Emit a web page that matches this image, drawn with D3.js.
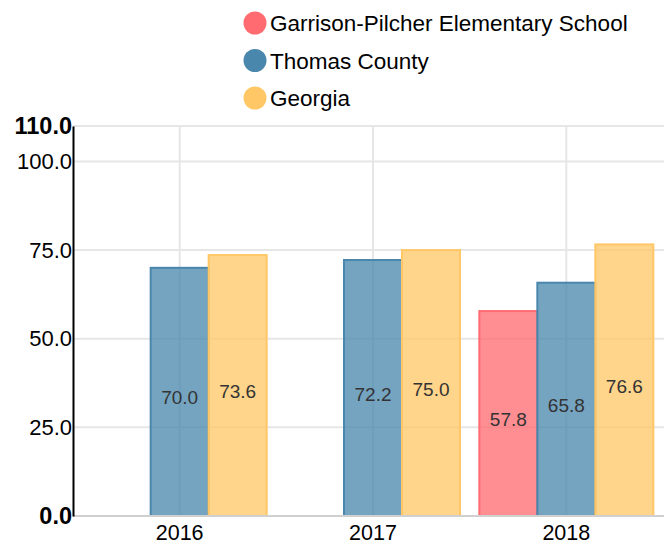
<!DOCTYPE html>
<html>
<head>
<meta charset="utf-8">
<script src="https://cdn.jsdelivr.net/npm/d3@7"></script>
<style>
  body { margin: 0; background: #fff; }
  text { font-family: "Liberation Sans", Arial, sans-serif; }
</style>
</head>
<body>
<div id="chart"></div>
<script>
const years = ["2016", "2017", "2018"];
const seriesNames = ["Garrison-Pilcher Elementary School", "Thomas County", "Georgia"];
const school = [null, null, 57.8];
const county = [70.0, 72.2, 65.8];
const georgia = [73.6, 75.0, 76.6];
const yTicks = [0, 25, 50, 75, 100, 110];
const colors = ["#ff6b70", "#4a87ad", "#ffc766"];

const W = 664, H = 547;
const margin = {top: 126, right: 1, bottom: 31, left: 73};

const svg = d3.select("#chart").append("svg")
  .attr("width", W)
  .attr("height", H);

const x = d3.scaleBand().domain(years).range([83, 663]);
const x1 = d3.scaleBand().domain(seriesNames).range([0, x.bandwidth() * 0.9]);
const y = d3.scaleLinear().domain([0, 110]).range([H - margin.bottom, margin.top]);

// grid
svg.append("g").selectAll("line.h")
  .data(yTicks.filter(d => d > 0))
  .enter().append("line")
  .attr("x1", margin.left).attr("x2", W)
  .attr("y1", d => y(d)).attr("y2", d => y(d))
  .attr("stroke", "#e6e6e6").attr("stroke-width", 2);

svg.append("g").selectAll("line.v")
  .data(years)
  .enter().append("line")
  .attr("x1", d => x(d) + x.bandwidth() / 2).attr("x2", d => x(d) + x.bandwidth() / 2)
  .attr("y1", y(110)).attr("y2", y(0))
  .attr("stroke", "#e6e6e6").attr("stroke-width", 2);

// bars
const data = [school, county, georgia];
const groups = svg.append("g");
data.forEach((vals, si) => {
  const name = seriesNames[si];
  const pts = years.map((yr, i) => ({yr, v: vals[i]})).filter(d => d.v != null);
  const off = x.bandwidth() * 0.05;
  groups.selectAll(".bar" + si)
    .data(pts)
    .enter().append("rect")
    .attr("x", d => x(d.yr) + off + x1(name))
    .attr("y", d => y(d.v))
    .attr("width", x1.bandwidth())
    .attr("height", d => y(0) - y(d.v))
    .attr("fill", colors[si])
    .attr("fill-opacity", 0.76)
    .attr("stroke", colors[si])
    .attr("stroke-width", 2);
  groups.selectAll(".lbl" + si)
    .data(pts)
    .enter().append("text")
    .attr("x", d => x(d.yr) + off + x1(name) + x1.bandwidth() / 2)
    .attr("y", d => (y(d.v) + y(0)) / 2 + 12.5)
    .attr("text-anchor", "middle")
    .attr("font-size", 19)
    .attr("fill", "#333")
    .text(d => d.v.toFixed(1));
});

// baseline
svg.append("line")
  .attr("x1", margin.left).attr("x2", W)
  .attr("y1", y(0)).attr("y2", y(0))
  .attr("stroke", "#d0d0d0").attr("stroke-width", 2);

// y axis
const yAxis = svg.append("g")
  .attr("transform", `translate(${margin.left},0)`)
  .call(d3.axisLeft(y).tickValues(yTicks).tickSize(0).tickPadding(1).tickFormat(d3.format(".1f")));
yAxis.select(".domain").attr("stroke", "#000").attr("stroke-width", 2);
yAxis.selectAll("text")
  .attr("fill", "#000")
  .attr("font-size", d => (d === 0 || d === 110) ? 23.5 : 22)
  .attr("font-weight", d => (d === 0 || d === 110) ? "bold" : "normal");

// x axis
const xAxis = svg.append("g")
  .attr("transform", `translate(0,${y(0)})`)
  .call(d3.axisBottom(x).tickSize(0).tickPadding(9));
xAxis.select(".domain").remove();
xAxis.selectAll("text").attr("font-size", 21.5).attr("fill", "#000");

// legend
const legend = svg.append("g").attr("transform", "translate(255,23)");
seriesNames.forEach((n, i) => {
  const g = legend.append("g").attr("transform", `translate(0,${i * 37.5})`);
  g.append("circle").attr("r", 11.5).attr("fill", colors[i]);
  g.append("text").attr("x", 15).attr("y", 8).attr("font-size", 22.5).attr("fill", "#000").text(n);
});
</script>
</body>
</html>
